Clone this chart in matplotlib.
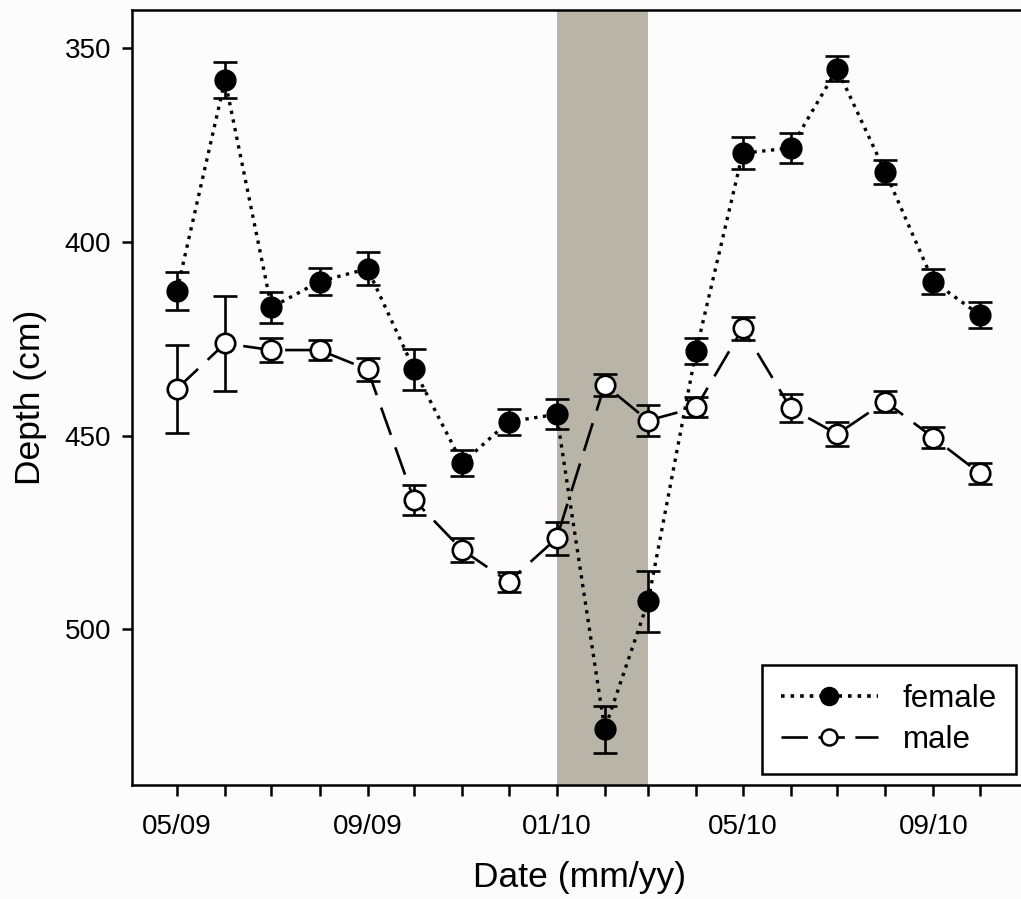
import matplotlib
matplotlib.use("Agg")
import matplotlib.pyplot as plt
from matplotlib.lines import Line2D
import datetime as dt

plt.rcParams['font.family'] = ['Liberation Sans', 'DejaVu Sans']

# ---- data ----
months = ["2009-05", "2009-06", "2009-07", "2009-08", "2009-09", "2009-10",
          "2009-11", "2009-12", "2010-01", "2010-02", "2010-03", "2010-04",
          "2010-05", "2010-06", "2010-07", "2010-08", "2010-09", "2010-10"]
female = [412.6, 358.2, 416.9, 410.2, 406.9, 432.9, 457.1, 446.4, 444.5,
          525.8, 492.8, 428.1, 377.1, 375.7, 355.3, 381.9, 410.2, 418.8]
female_err = [4.9, 4.6, 3.9, 3.6, 4.2, 5.2, 3.4, 3.4, 3.9,
              6.1, 7.8, 3.4, 4.1, 3.9, 3.2, 3.0, 3.2, 3.4]
male = [437.9, 426.2, 427.9, 427.9, 432.9, 466.6, 479.5, 487.7, 476.5,
        436.9, 446.1, 442.7, 422.3, 442.9, 449.6, 441.2, 450.5, 459.7]
male_err = [11.3, 12.3, 3.2, 2.6, 2.9, 3.9, 3.2, 2.6, 4.3,
            2.9, 4.0, 2.6, 2.9, 3.7, 3.2, 2.7, 2.7, 2.7]
tick_labels = ["05/09", "09/09", "01/10", "05/10", "09/10"]
tick_months = ["2009-05", "2009-09", "2010-01", "2010-05", "2010-09"]
shade_span = ("2010-01", "2010-03")

def to_date(s):
    y, m = s.split("-")
    return dt.datetime(int(y), int(m), 1)

x = [to_date(m) for m in months]

W, H = 1021, 899
fig = plt.figure(figsize=(W / 100, H / 100), dpi=100)
fig.patch.set_facecolor("#fcfcfc")
ax_w = 895.8
ax = fig.add_axes([132 / W, (H - 785) / H, ax_w / W, 775 / H])
ax.set_facecolor("#fcfcfc")

ax.axvspan(to_date(shade_span[0]), to_date(shade_span[1]),
           color="#b8b5a8", lw=0, zorder=0)

ax.errorbar(x, female, yerr=female_err, fmt="o", ls=":", lw=2.4,
            color="black", mfc="black", mec="black", ms=15,
            ecolor="black", elinewidth=1.9, capsize=8.6, capthick=1.9,
            zorder=3)
ax.errorbar(x, male, yerr=male_err, fmt="o", ls=(0, (11, 5)), lw=1.9,
            color="black", mfc="white", mec="black", mew=1.9, ms=14,
            ecolor="black", elinewidth=1.9, capsize=8.6, capthick=1.9,
            zorder=4)

ax.set_ylim(540.2, 340.1)
ax.set_xlim(dt.datetime(2009, 4, 2), dt.datetime(2010, 11, 1))
ax.set_yticks([350, 400, 450, 500])

all_months = [dt.datetime(2009 + (4 + i) // 12, (4 + i) % 12 + 1, 1) for i in range(18)]
ax.set_xticks(all_months, minor=True)
ax.set_xticks([to_date(m) for m in tick_months])
ax.set_xticklabels(tick_labels)

ax.tick_params(axis="both", which="both", direction="out", width=1.8,
               labelsize=20, color="black")
ax.tick_params(axis="x", which="both", length=8, pad=13)
ax.tick_params(axis="y", which="major", length=7, pad=8)

for s in ["left", "bottom", "top"]:
    ax.spines[s].set_linewidth(1.8)
ax.spines["right"].set_visible(False)

ax.set_xlabel("Date (mm/yy)", fontsize=25.5, labelpad=15)
ax.set_ylabel("Depth (cm)", fontsize=25.5, labelpad=13)

handles = [
    Line2D([], [], ls=":", lw=2.6, color="black", marker="o", mfc="black",
           mec="black", ms=13),
    Line2D([], [], ls=(0, (10, 4)), lw=1.9, color="black", marker="o",
           mfc="white", mec="black", mew=1.8, ms=11.5),
]
leg = ax.legend(handles, ["female", "male"], loc="lower right",
                bbox_to_anchor=((1015.7 - 132) / ax_w, 11 / 775),
                bbox_transform=ax.transAxes,
                fontsize=22.5, handlelength=3.1, frameon=True, fancybox=False,
                edgecolor="black", borderpad=0.6, labelspacing=0.36,
                handletextpad=0.8, borderaxespad=0.0)
leg.get_frame().set_linewidth(1.8)
leg.get_frame().set_facecolor("white")
leg.get_frame().set_alpha(1)

fig.savefig("out.png", dpi=100, facecolor=fig.get_facecolor())
